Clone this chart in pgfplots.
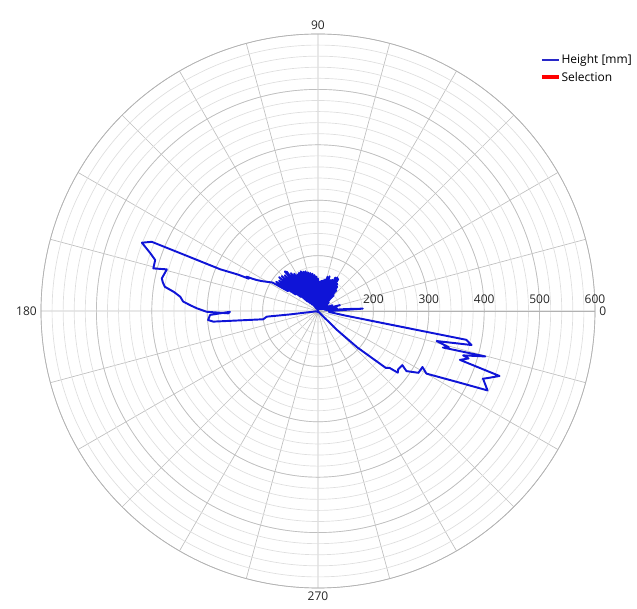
\documentclass[border=0pt]{standalone}
\usepackage{fontspec}
\setmainfont{Open Sans}
\usepackage{pgfplots}
\usepgfplotslibrary{polar}
\pgfplotsset{compat=1.18}
\usepackage{pgfplotstable}
\definecolor{traceblue}{RGB}{15,20,215}
\definecolor{legblue}{RGB}{40,40,200}
\pgfplotstableread{
a r
0 120
3 181
4 150
5 115
8 135
12 112
15 141
18 110
22 128
26 108
30 120
34 106
38 125
42 110
45 140
47 105
48.5 150
50 106
51.5 156
53 104
54.5 160
56 108
57.5 168
59 103
60 170
61.5 106
62.5 168
64 104
65.5 162
67 108
68.5 160
70 103
71.5 166
73 106
74.5 164
76 104
77.5 158
79 107
80.5 156
82 103
83.5 155
85 106
86.5 153
88 104
89.5 158
91 107
92.5 162
94 103
95.5 165
97 106
98.5 168
100 104
101.5 170
103 107
104.5 172
106 103
107.5 175
109 106
110.5 176
112 104
113.5 178
115 108
116.5 177
118 104
119.5 176
121 110
122.5 180
124 106
125.5 184
127 112
128.5 190
130 193
131.5 115
133 188
134.5 120
136 191
137.5 125
139 193
140.5 140
142 189
143.5 150
145 192
146.5 165
148 197
150 205
152 215
153.2 224
153.8 232
154.3 243
155.0 238
155.5 258
156.9 292
157.2 360
157.4 425
158.8 441
159.6 433
161 420
162.6 408
165.5 407
164.6 383
168.2 388
169.5 385
171 380
172.5 362
174.1 350
176 344
177.5 330
178.7 319
180.4 301
181.5 262
180.5 259
182.1 295
184.7 299
185.8 290
188.6 200
186.3 193
187 150
189 105
200 102
220 101
240 102
260 101
280 102
300 101
310 102
312 105
315 148
317.2 197
320 260
321.5 265
322.3 282
324 279
327.3 281
325.8 293
328.4 313
331.8 314
330 326
333.1 385
334.9 438
337.7 422
338.5 430
340.3 448
341 371
342.5 385
343 374
344.8 413
343.7 335
344.5 345
345.8 321
347.5 384
349 373
350.5 150
355 120
360 120
}\trace
\begin{document}
\fontsize{9}{11}\selectfont
\begin{tikzpicture}
\useasboundingbox (-238.5pt,-223.5pt) rectangle (239.25pt,233.25pt);
\begin{polaraxis}[
  at={(0,0)}, anchor=center,
  scale only axis, width=415.5pt, height=415.5pt,
  xmin=0, xmax=360, ymin=0, ymax=500,
  xtick={0,15,...,345},
  xticklabels={0,,,,,,90,,,,,,180,,,,,,270,,,,,},
  ytick={100,200,300,400,500},
  yticklabels={200,300,400,500,600},
  minor ytick={20,40,...,480},
  grid=both,
  major grid style={draw=black!25, line width=0.5pt},
  minor grid style={draw=black!13, line width=0.5pt},
  axis line style={draw=black!30, line width=0.5pt},
  major tick length=0pt, minor tick length=0pt,
  ticklabel style={font=\fontsize{9}{11}\selectfont, text=black!85},
  yticklabel style={anchor=south, yshift=2.5pt},
  /pgf/number format/assume math mode=true,
]
\addplot[traceblue, line width=1.45pt, line join=round]
  table[x=a, y expr=\thisrow{r}-100] {\trace};
\end{polaraxis}
% legend
\draw[legblue, line width=0.8pt] (168pt,188.25pt) -- (180.75pt,188.25pt);
\node[anchor=west, inner sep=0pt, font=\fontsize{9}{11}\selectfont] at (182.5pt,188.25pt) {Height [mm]};
\draw[red, line width=2.6pt] (168pt,175.5pt) -- (180.75pt,175.5pt);
\node[anchor=west, inner sep=0pt, font=\fontsize{9}{11}\selectfont] at (182.5pt,175.5pt) {Selection};
\end{tikzpicture}
\end{document}
